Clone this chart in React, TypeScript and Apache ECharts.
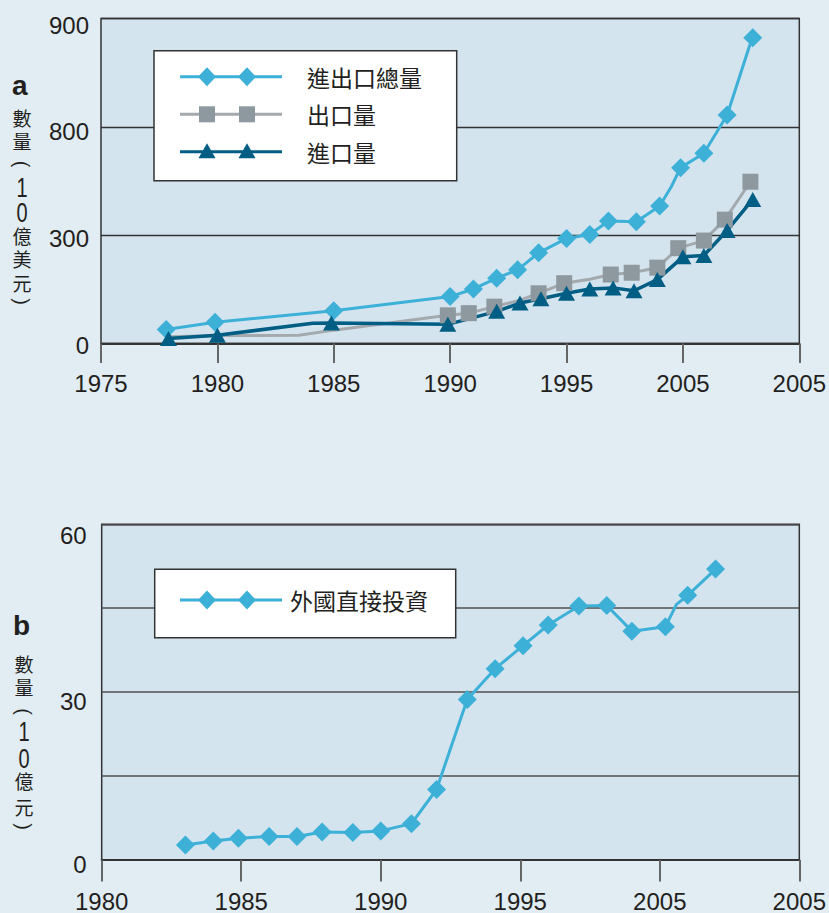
import React, { useEffect, useRef } from "react";
import * as echarts from "echarts";

// ---------- Chart a: trade ----------
const xTickLabelsA = ["1975", "1980", "1985", "1990", "1995", "2005", "2005"];
const yTickLabelsA = ["0", "300", "800", "900"];

const totalYears = [1977.8, 1979.9, 1985, 1990, 1991, 1992, 1992.9, 1993.8, 1995, 1996, 1996.8, 1998, 1999, 1999.5, 1999.9, 2000.9, 2001.9, 2002.85, 2003];
const totalValues = [39, 59, 91, 130, 151, 181, 204, 251, 291, 302, 339, 337, 381, 434, 487, 527, 633, 822, 847];
const totalMarked = [1, 1, 1, 1, 1, 1, 1, 1, 1, 1, 1, 1, 1, 0, 1, 1, 1, 0, 1];

const exportYears = [1978, 1980, 1983.5, 1985, 1989.9, 1990.8, 1991.9, 1993, 1993.8, 1994.9, 1996, 1996.9, 1997.8, 1998.9, 1999.8, 2000.9, 2001.8, 2002.9];
const exportValues = [19, 22, 23, 37, 78, 84, 102, 120, 139, 167, 178, 191, 196, 210, 264, 285, 343, 448];
const exportMarked = [0, 0, 0, 0, 1, 1, 1, 0, 1, 1, 0, 1, 1, 1, 1, 1, 1, 1];

const importYears = [1977.9, 1980, 1984.1, 1984.9, 1989.9, 1992, 1993, 1993.9, 1995, 1996, 1997, 1997.9, 1998.9, 2000, 2000.9, 2001.9, 2003];
const importValues = [14, 23, 56, 57, 53, 89, 112, 124, 139, 151, 154, 146, 177, 240, 244, 313, 399];
const importMarked = [1, 1, 0, 1, 1, 1, 1, 1, 1, 1, 1, 1, 1, 1, 1, 1, 1];

const legendNamesA = ["進出口總量", "出口量", "進口量"];
const axisTitleA = ["數", "量", "(", "1", "0", "億", "美", "元", ")"];

// ---------- Chart b: FDI ----------
const xTickLabelsB = ["1980", "1985", "1990", "1995", "2005", "2005"];
const yTickLabelsB = ["0", "", "30", "", "60"];

const fdiYears = [1983, 1984, 1984.9, 1986, 1987, 1987.9, 1989, 1990, 1991.1, 1992, 1993.1, 1994.1, 1995.1, 1996, 1997.1, 1998.1, 1999, 2000.2, 2000.6, 2001, 2002];
const fdiValues = [2.7, 3.4, 3.9, 4.2, 4.2, 5.0, 4.9, 5.2, 6.5, 12.6, 28.7, 34.2, 38.3, 42.0, 45.4, 45.5, 40.9, 41.7, 45.7, 47.3, 52.0];
const fdiMarked = [1, 1, 1, 1, 1, 1, 1, 1, 1, 1, 1, 1, 1, 1, 1, 1, 1, 1, 0, 1, 1];

const legendNamesB = ["外國直接投資"];
const axisTitleB = ["數", "量", "(", "1", "0", "億", "元", ")"];

const C_TOTAL = "#3db0d8";
const C_EXPORT_LINE = "#a3a9ad";
const C_EXPORT = "#8d989f";
const C_IMPORT = "#005e85";
const TEXT = "#231f20";
const LATIN = "'Liberation Sans', Arial, Helvetica, sans-serif";
const CJK = "'Noto Sans CJK TC', 'Noto Sans CJK SC', sans-serif";

function buildData(xs: number[], ys: number[], marks: number[], sym: string) {
  return xs.map((x, i) => ({ value: [x, ys[i]], symbol: marks[i] ? sym : "none" }));
}

function diamond(cx: number, cy: number, w: number, h: number, color: string) {
  return {
    type: "polygon",
    z: 101,
    shape: { points: [[cx, cy - h / 2], [cx + w / 2, cy], [cx, cy + h / 2], [cx - w / 2, cy]] },
    style: { fill: color },
  };
}
function triangle(cx: number, cy: number, w: number, h: number, color: string) {
  return {
    type: "polygon",
    z: 101,
    shape: { points: [[cx, cy - h / 2], [cx + w / 2, cy + h / 2], [cx - w / 2, cy + h / 2]] },
    style: { fill: color },
  };
}
function square(cx: number, cy: number, s: number, color: string) {
  return { type: "rect", z: 101, shape: { x: cx - s / 2, y: cy - s / 2, width: s, height: s }, style: { fill: color } };
}

function legendRow(y: number, lineColor: string, markColor: string, kind: string, text: string, textX: number) {
  const els: any[] = [
    { type: "line", z: 100, shape: { x1: 180, y1: y, x2: 282, y2: y }, style: { stroke: lineColor, lineWidth: 3 } },
  ];
  [207, 247].forEach((cx) => {
    if (kind === "diamond") els.push(diamond(cx, y, 18, 19, markColor));
    else if (kind === "square") els.push(square(cx, y, 16, markColor));
    else els.push(triangle(cx, y - 1, 17, 15, markColor));
  });
  els.push({
    type: "text",
    z: 101,
    x: textX,
    y: y,
    style: { text, fontSize: 23, fontFamily: CJK, fill: TEXT, verticalAlign: "middle", align: "left" },
  });
  return els;
}

// one text element per character of a vertical axis title
function vertTitle(chars: string[], cx: number, centers: number[]) {
  return chars.map((ch, i) => {
    const isParen = ch === "(" || ch === ")";
    const isDigit = /[0-9]/.test(ch);
    const el: any = {
      type: "text",
      z: 100,
      x: cx,
      y: centers[i],
      style: {
        text: ch,
        fontSize: isParen ? 20 : isDigit ? 27 : 19,
        lineHeight: isParen ? 8 : 19,
        fontFamily: isParen || isDigit ? LATIN : CJK,
        fill: TEXT,
        align: "center",
        verticalAlign: "middle",
      },
    };
    if (isParen) el.rotation = -Math.PI / 2;
    if (isDigit) el.scaleX = 0.74;
    return el;
  });
}

function richAxisLabels(heights: number[]) {
  const rich: any = {};
  heights.forEach((h, i) => {
    rich["t" + i] = { fontSize: 24, fontFamily: LATIN, color: TEXT, lineHeight: h };
  });
  return rich;
}

export default function App() {
  const ref = useRef<HTMLDivElement>(null);

  useEffect(() => {
    if (!ref.current) return;
    const chart = echarts.init(ref.current, undefined, { renderer: "svg" });

    const gridCommon = {
      show: true,
      backgroundColor: "#d3e4ee",
      borderColor: "#333333",
      borderWidth: 1.5,
      containLabel: false,
    };

    const xAxisCommon = (min: number, labels: string[], gridIndex: number, tickLen: number, margin: number) => ({
      type: "value",
      gridIndex,
      min,
      max: 2005,
      interval: 5,
      axisLine: { show: true, lineStyle: { color: "#333333", width: 2 } },
      axisTick: { show: true, inside: false, length: tickLen, lineStyle: { color: "#666666", width: 2 } },
      splitLine: { show: false },
      axisLabel: {
        margin,
        fontSize: 24,
        fontFamily: LATIN,
        color: TEXT,
        formatter: (v: number) => labels[Math.round((v - min) / 5)] ?? "",
      },
    });

    const yHeightsA = [3, 6.6, 9.4, 13];
    const yHeightsB = [8, 12, 18.6, 20, 21.4];

    const option: any = {
      animation: false,
      backgroundColor: "#e1ecf3",
      grid: [
        { ...gridCommon, left: 101, top: 18.5, width: 703, height: 325 },
        { ...gridCommon, left: 101.7, top: 524.3, width: 698.3, height: 338.4 },
      ],
      xAxis: [xAxisCommon(1975, xTickLabelsA, 0, 19.5, 28), xAxisCommon(1980, xTickLabelsB, 1, 21.5, 29)],
      yAxis: [
        {
          type: "value",
          gridIndex: 0,
          min: 0,
          max: 900,
          interval: 300,
          axisLine: { show: false },
          axisTick: { show: false },
          splitLine: { show: true, lineStyle: { color: "#333333", width: 1.3 } },
          axisLabel: {
            margin: 12,
            fontSize: 24,
            fontFamily: LATIN,
            color: TEXT,
            verticalAlign: "top",
            rich: richAxisLabels(yHeightsA),
            formatter: (v: number) => {
              const i = Math.round(v / 300);
              return yTickLabelsA[i] ? `{t${i}|${yTickLabelsA[i]}}` : "";
            },
          },
        },
        {
          type: "value",
          gridIndex: 1,
          min: 0,
          max: 60,
          interval: 15,
          axisLine: { show: false },
          axisTick: { show: false },
          splitLine: { show: true, lineStyle: { color: "#505050", width: 1.5 } },
          axisLabel: {
            margin: 15,
            fontSize: 24,
            fontFamily: LATIN,
            color: TEXT,
            verticalAlign: "top",
            rich: richAxisLabels(yHeightsB),
            formatter: (v: number) => {
              const i = Math.round(v / 15);
              return yTickLabelsB[i] ? `{t${i}|${yTickLabelsB[i]}}` : "";
            },
          },
        },
      ],
      series: [
        {
          name: legendNamesA[0],
          type: "line",
          xAxisIndex: 0,
          yAxisIndex: 0,
          data: buildData(totalYears, totalValues, totalMarked, "diamond"),
          symbolSize: 19,
          lineStyle: { color: C_TOTAL, width: 3 },
          itemStyle: { color: C_TOTAL },
        },
        {
          name: legendNamesA[1],
          type: "line",
          xAxisIndex: 0,
          yAxisIndex: 0,
          data: buildData(exportYears, exportValues, exportMarked, "rect"),
          symbolSize: 16,
          lineStyle: { color: C_EXPORT_LINE, width: 3 },
          itemStyle: { color: C_EXPORT },
        },
        {
          name: legendNamesA[2],
          type: "line",
          xAxisIndex: 0,
          yAxisIndex: 0,
          data: buildData(importYears, importValues, importMarked, "triangle"),
          symbolSize: [17, 15],
          lineStyle: { color: C_IMPORT, width: 3.5 },
          itemStyle: { color: C_IMPORT },
        },
        {
          name: legendNamesB[0],
          type: "line",
          xAxisIndex: 1,
          yAxisIndex: 1,
          data: buildData(fdiYears, fdiValues, fdiMarked, "diamond"),
          symbolSize: 19,
          lineStyle: { color: C_TOTAL, width: 3 },
          itemStyle: { color: C_TOTAL },
        },
      ],
      graphic: [
        {
          type: "text",
          z: 100,
          x: 12,
          y: 85,
          style: { text: "a", fontSize: 28, fontWeight: "bold", fontFamily: LATIN, fill: TEXT, verticalAlign: "middle" },
        },
        {
          type: "text",
          z: 100,
          x: 13,
          y: 625,
          style: { text: "b", fontSize: 28, fontWeight: "bold", fontFamily: LATIN, fill: TEXT, verticalAlign: "middle" },
        },
        ...vertTitle(axisTitleA, 22, [117, 140, 164, 187.5, 212, 235, 258, 282, 301.5]),
        ...vertTitle(axisTitleB, 24, [663, 686.7, 711.7, 731.7, 758.3, 780, 806.7, 826.7]),
        {
          type: "rect",
          z: 99,
          shape: { x: 154, y: 50.7, width: 302.7, height: 130 },
          style: { fill: "#ffffff", stroke: "#333333", lineWidth: 1.5 },
        },
        ...legendRow(76.7, C_TOTAL, C_TOTAL, "diamond", legendNamesA[0], 307),
        ...legendRow(114.3, C_EXPORT_LINE, C_EXPORT, "square", legendNamesA[1], 307),
        ...legendRow(151.7, C_IMPORT, C_IMPORT, "triangle", legendNamesA[2], 307),
        {
          type: "rect",
          z: 99,
          shape: { x: 154.7, y: 569.3, width: 301, height: 68.4 },
          style: { fill: "#ffffff", stroke: "#333333", lineWidth: 1.5 },
        },
        ...legendRow(600, C_TOTAL, C_TOTAL, "diamond", legendNamesB[0], 290),
      ],
    };

    chart.setOption(option);
    return () => chart.dispose();
  }, []);

  return (
    <div
      ref={ref}
      style={{ position: "absolute", left: 0, top: 0, width: 829, height: 913, background: "#e1ecf3" }}
    />
  );
}
